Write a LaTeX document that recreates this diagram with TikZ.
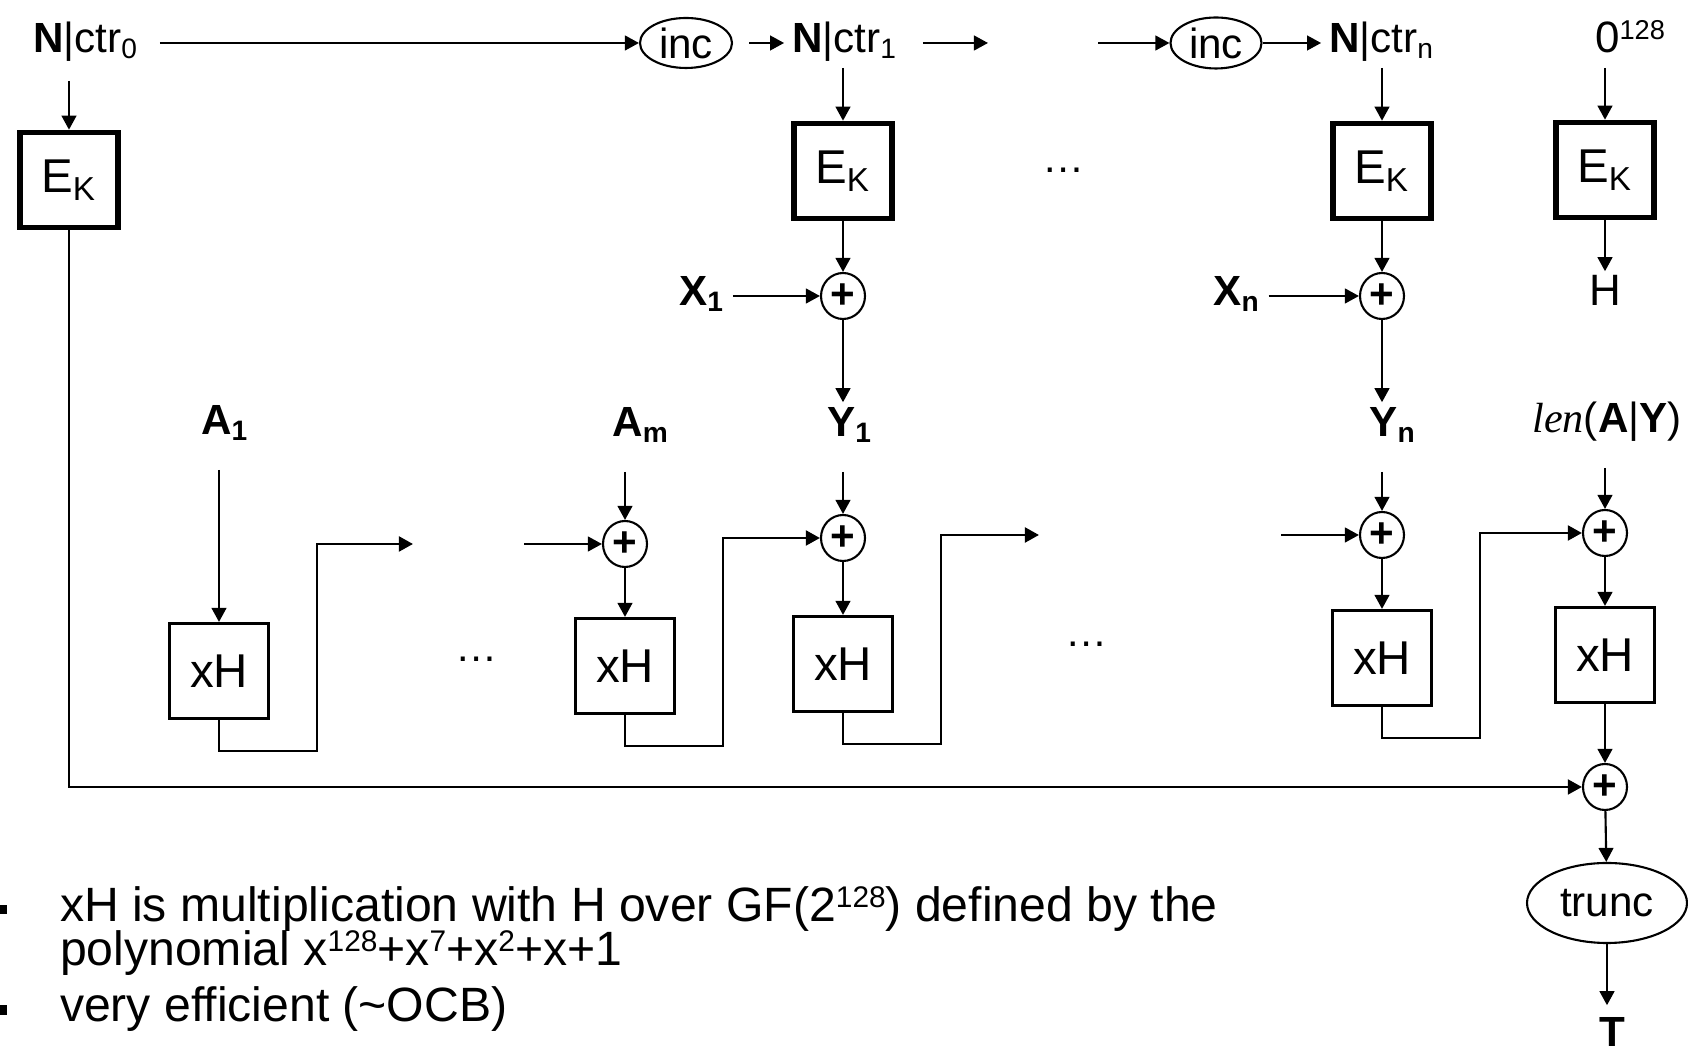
\documentclass[tikz,border=0pt]{standalone}
\usepackage{graphicx}
\usepackage{fontspec}
\setmainfont{Liberation Sans}
\newfontfamily\lenfont{Liberation Serif}
\usetikzlibrary{arrows.meta,shapes.geometric}
\newcommand\supnum[1]{\raisebox{0.3em}{\scalebox{0.62}{#1}}}

\begin{document}
\begin{tikzpicture}[
    >={Triangle[length=4pt,width=4.2pt]},
    line width=0.6pt,
    every node/.style={font=\fontsize{12}{14}\selectfont},
    lbl/.style={inner sep=2pt,text height=0.75em,text depth=0.2em},
    lblgap/.style={shorten <=0.2cm},
    ek/.style={draw,line width=1.6pt,minimum width=0.98cm,minimum height=0.95cm,inner sep=0pt,font=\fontsize{13.5}{15}\selectfont},
    mult/.style={draw,line width=0.9pt,minimum width=0.99cm,minimum height=0.95cm,inner sep=0pt,font=\fontsize{13.5}{15}\selectfont},
    xorop/.style={draw,ellipse,inner sep=0pt,minimum width=0.44cm,minimum height=0.46cm},
    oval/.style={draw,ellipse,inner sep=0pt},
    fb/.style={line width=0.8pt},
    note/.style={anchor=base west,inner sep=0pt,font=\fontsize{13.7}{15}\selectfont}
]
\useasboundingbox (0,0) rectangle (16.88,-10.46);

% counters
\node[lbl] (n0) at (0.86,-0.43) {\textbf{N}|ctr\textsubscript{0}};
\node[oval,minimum width=0.92cm,minimum height=0.5cm] (inc1) at (6.86,-0.43) {inc};
\node[lbl] (n1) at (8.45,-0.43) {\textbf{N}|ctr\textsubscript{1}};
\coordinate (d1) at (9.88,-0.43);
\coordinate (d2) at (10.98,-0.43);
\node[oval,minimum width=0.91cm,minimum height=0.51cm] (inc2) at (12.16,-0.43) {inc};
\node[lbl] (nn) at (13.82,-0.43) {\textbf{N}|ctr\textsubscript{n}};
\node[lbl,font=\fontsize{12.5}{14}\selectfont] (zero) at (16.30,-0.43) {0\supnum{128}};

% encryptions
\node[ek] (ek0) at (0.69,-1.80) {E\textsubscript{K}};
\node[ek] (ek1) at (8.43,-1.71) {E\textsubscript{K}};
\node (dots1) at (10.64,-1.70) {…};
\node[ek] (ekn) at (13.82,-1.71) {E\textsubscript{K}};
\node[ek] (ekl) at (16.05,-1.70) {E\textsubscript{K}};

% plaintext in
\node[xorop] (x1p) at (8.43,-2.96) {\textbf{+}};
\node[lbl] (x1) at (7.02,-2.96) {\textbf{X\textsubscript{1}}};
\node[xorop] (xnp) at (13.82,-2.96) {\textbf{+}};
\node[lbl] (xn) at (12.37,-2.96) {\textbf{X\textsubscript{n}}};
\node[lbl,font=\fontsize{12.5}{14}\selectfont] (h) at (16.05,-2.96) {H};

% hash inputs
\node[lbl] (a1) at (2.25,-4.25) {\textbf{A\textsubscript{1}}};
\node[lbl] (am) at (6.41,-4.27) {\textbf{A\textsubscript{m}}};
\node[lbl] (y1) at (8.50,-4.27) {\textbf{Y\textsubscript{1}}};
\node[lbl] (yn) at (13.93,-4.27) {\textbf{Y\textsubscript{n}}};
\node[lbl] (len) at (16.07,-4.23) {{\lenfont\itshape len}(\textbf{A}|\textbf{Y})};

\node[xorop] (amp) at (6.25,-5.44) {\textbf{+}};
\node[xorop] (y1p) at (8.43,-5.38) {\textbf{+}};
\node[xorop] (ynp) at (13.82,-5.35) {\textbf{+}};
\node[xorop] (lp) at (16.05,-5.33) {\textbf{+}};
\coordinate (o1) at (4.13,-5.44);
\coordinate (i1) at (5.24,-5.44);
\coordinate (o2) at (10.39,-5.35);
\coordinate (i2) at (12.81,-5.35);

\node[mult] (m1) at (2.19,-6.71) {xH};
\node (dots2) at (4.77,-6.59) {…};
\node[mult] (mm) at (6.25,-6.66) {xH};
\node[mult] (my) at (8.43,-6.64) {xH};
\node (dots3) at (10.87,-6.44) {…};
\node[mult] (mn) at (13.82,-6.58) {xH};
\node[mult] (ml) at (16.05,-6.55) {xH};

\node[xorop] (fp) at (16.05,-7.87) {\textbf{+}};
\node[oval,minimum width=1.6cm,minimum height=0.8cm] (trunc) at (16.07,-9.03) {trunc};
\node[anchor=base] (tag) at (16.12,-10.47) {\textbf{T}};

% counter chain
\draw[->,shorten <=0.13cm] (n0) -- (inc1);
\draw[->,shorten <=0.16cm] (inc1) -- (n1);
\draw[->,shorten <=0.17cm] (n1) -- (d1);
\draw[->] (d2) -- (inc2);
\draw[->] (inc2) -- (nn);
\draw[->,shorten <=0.13cm] (ek0 |- n0.south) -- (ek0);
\draw[->] (ek1 |- n1.south) -- (ek1);
\draw[->] (ekn |- nn.south) -- (ekn);
\draw[->] (ekl |- zero.south) -- (ekl);

% encryption outputs
\draw[->] (ek1) -- (x1p);
\draw[->] (ekn) -- (xnp);
\draw[->] (ekl) -- (h);
\draw[->] (x1) -- (x1p);
\draw[->] (xn) -- (xnp);
\draw[->] (x1p) -- (x1p |- y1.north);
\draw[->] (xnp) -- (xnp |- yn.north);

% hash chain
\draw[->,lblgap] (m1 |- a1.south) -- (m1);
\draw[->,lblgap] (amp |- am.south) -- (amp);
\draw[->,lblgap] (y1p |- y1.south) -- (y1p);
\draw[->,lblgap] (ynp |- yn.south) -- (ynp);
\draw[->,lblgap] (lp |- len.south) -- (lp);
\draw[->] (amp) -- (mm);
\draw[->] (y1p) -- (my);
\draw[->] (ynp) -- (mn);
\draw[->] (lp) -- (ml);
\draw[->] (i1) -- (amp);
\draw[->] (i2) -- (ynp);
\foreach \a/\b in {m1/o1,mm/y1p,my/o2,mn/lp}
    \draw[fb,->] (\a.south) |- ++(0.98,-0.31) |- (\b);

% tag
\draw[->,line width=0.75pt] (ek0) |- (fp);
\draw[->] (ml) -- (fp);
\draw[->] (fp) -- (trunc);
\draw[->] (trunc) -- (trunc |- tag.north);

% notes
\fill (-0.03,-9.05) rectangle (0.07,-9.14);
\fill (-0.03,-10.05) rectangle (0.07,-10.15);
\node[note] (l1) at (0.59,-9.22) {xH is multiplication with H over GF(2\supnum{128}) defined by the};
\node[note] (l2) at (0.59,-9.66) {polynomial x\supnum{128}+x\supnum{7}+x\supnum{2}+x+1};
\node[note] (l3) at (0.59,-10.22) {very efficient (\textasciitilde OCB)};
\end{tikzpicture}
\end{document}
